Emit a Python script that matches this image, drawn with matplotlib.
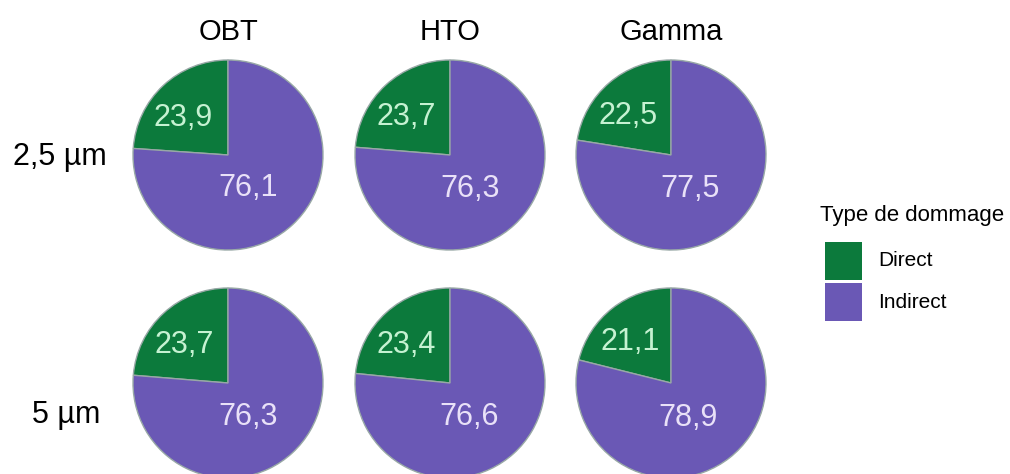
import numpy as np
import matplotlib
matplotlib.use("Agg")
import matplotlib.pyplot as plt
from matplotlib.patches import Rectangle

plt.rcParams['font.family'] = ['Liberation Sans', 'DejaVu Sans']

# data
sources = ["OBT", "HTO", "Gamma"]
sizes = ["2,5 µm", "5 µm"]
categories = ["Direct", "Indirect"]
direct = [[23.9, 23.7, 22.5],
          [23.7, 23.4, 21.1]]
indirect = [[76.1, 76.3, 77.5],
            [76.3, 76.6, 78.9]]

colors = ["#0c7a3c", "#6a58b5"]
label_colors = ["#c6f2d2", "#e9e1f8"]
edge = "#98a8a6"

W, H = 1010, 474
fig = plt.figure(figsize=(W / 100, H / 100), dpi=100)

R = 95
col_x = [228, 450, 671]
row_y = [155, 383]

# label placement: (angle shift in degrees, radius fraction) per category
lab_pos = [(7, 0.61), (-12, 0.41)]

for i, size in enumerate(sizes):
    for j, src in enumerate(sources):
        cx, cy = col_x[j], row_y[i]
        ax = fig.add_axes([(cx - R) / W, (H - cy - R) / H, 2 * R / W, 2 * R / H])
        vals = [direct[i][j], indirect[i][j]]
        wedges, _ = ax.pie(vals, colors=colors, startangle=90, counterclock=True,
                           radius=1, wedgeprops=dict(edgecolor=edge, linewidth=1.0))
        for k, w in enumerate(wedges):
            mid = np.deg2rad((w.theta1 + w.theta2) / 2 + lab_pos[k][0])
            r = lab_pos[k][1]
            ax.text(r * np.cos(mid), r * np.sin(mid),
                    ("%.1f" % vals[k]).replace(".", ","),
                    ha="center", va="center", fontsize=22, color=label_colors[k])
        ax.set_xlim(-1.0, 1.0)
        ax.set_ylim(-1.0, 1.0)
        ax.axis("off")

# column titles
for j, src in enumerate(sources):
    fig.text(col_x[j] / W, 1 - 40 / H, src, ha="center", va="baseline", fontsize=21)

# row labels
row_lab_x = [60, 66]
row_lab_base = [165, 423]
for i, size in enumerate(sizes):
    fig.text(row_lab_x[i] / W, 1 - row_lab_base[i] / H, size,
             ha="center", va="baseline", fontsize=22)

# legend
fig.text(820 / W, 1 - 221 / H, "Type de dommage", ha="left", va="baseline", fontsize=16)
key_top = [242, 283]
for k, cat in enumerate(categories):
    fig.patches.append(Rectangle((825 / W, 1 - (key_top[k] + 38) / H), 37 / W, 38 / H,
                                 transform=fig.transFigure, facecolor=colors[k],
                                 edgecolor="none"))
    fig.text(878 / W, 1 - (key_top[k] + 19) / H, cat, ha="left", va="center", fontsize=15)

fig.savefig("out.png", dpi=100)
